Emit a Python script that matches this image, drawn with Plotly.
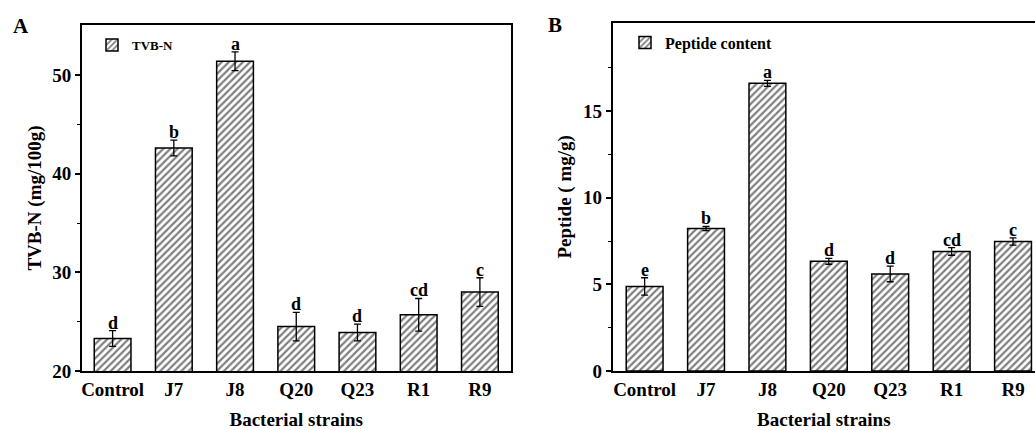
import plotly.graph_objects as go

strains = ["Control", "J7", "J8", "Q20", "Q23", "R1", "R9"]
tvbn = [23.3, 42.6, 51.4, 24.5, 23.9, 25.7, 28.0]
tvbn_err = [0.8, 0.8, 0.95, 1.45, 0.85, 1.65, 1.45]
tvbn_letters = ["d", "b", "a", "d", "d", "cd", "c"]
peptide = [4.88, 8.22, 16.6, 6.33, 5.6, 6.9, 7.47]
peptide_err = [0.5, 0.12, 0.17, 0.17, 0.45, 0.22, 0.21]
peptide_letters = ["e", "b", "a", "d", "d", "cd", "c"]

W, H = 1035, 430
FONT = "Liberation Serif"

def px_x(p):
    return p / W

def px_y(p):
    return 1 - p / H

pattern = dict(shape="/", fgcolor="black", bgcolor="white", size=5, solidity=0.45)

fig = go.Figure()
fig.add_trace(go.Bar(
    x=strains, y=tvbn, name="TVB-N", xaxis="x", yaxis="y", width=0.6,
    marker=dict(color="white", pattern=pattern, line=dict(color="black", width=1.5)),
    error_y=dict(type="data", array=tvbn_err, color="black", thickness=1.3, width=3.5),
    legend="legend",
))
fig.add_trace(go.Bar(
    x=strains, y=peptide, name="Peptide content", xaxis="x2", yaxis="y2", width=0.6,
    marker=dict(color="white", pattern=pattern, line=dict(color="black", width=1.5)),
    error_y=dict(type="data", array=peptide_err, color="black", thickness=1.3, width=3.5),
    legend="legend2",
))

annotations = []
for s, v, e, t in zip(strains, tvbn, tvbn_err, tvbn_letters):
    annotations.append(dict(x=s, y=v + e, xref="x", yref="y", text=t, showarrow=False,
                            yanchor="bottom", yshift=-4,
                            font=dict(family=FONT, size=18, color="black", weight="bold")))
for s, v, e, t in zip(strains, peptide, peptide_err, peptide_letters):
    annotations.append(dict(x=s, y=v + e, xref="x2", yref="y2", text=t, showarrow=False,
                            yanchor="bottom", yshift=-4,
                            font=dict(family=FONT, size=18, color="black", weight="bold")))
annotations.append(dict(x=px_x(21), y=px_y(26), xref="paper", yref="paper", text="A",
                        showarrow=False, xanchor="center", yanchor="middle",
                        font=dict(family=FONT, size=21, color="black", weight="bold")))
annotations.append(dict(x=px_x(555), y=px_y(25), xref="paper", yref="paper", text="B",
                        showarrow=False, xanchor="center", yanchor="middle",
                        font=dict(family=FONT, size=21, color="black", weight="bold")))

tickfont = dict(family=FONT, size=19, color="black", weight="bold")
titlefont = dict(family=FONT, size=19, color="black", weight="bold")

xcommon = dict(type="category", showline=True, linecolor="black", linewidth=1.8, mirror=True,
               automargin=False,
               ticks="", tickfont=tickfont, ticklabelstandoff=0, showgrid=False, zeroline=False,
               title=dict(text="Bacterial strains", font=titlefont, standoff=15))

fig.update_layout(
    width=W, height=H, margin=dict(l=0, r=0, t=0, b=0, autoexpand=False),
    paper_bgcolor="white", plot_bgcolor="white",
    font=dict(family=FONT, color="black"),
    showlegend=True,
    bargap=0.4,
    xaxis=dict(domain=[px_x(82), px_x(510.5)], range=[-0.5, 6.5], anchor="y", **xcommon),
    yaxis=dict(domain=[px_y(371), px_y(25)], range=[20, 55.07], anchor="x", automargin=False,
               showline=True, linecolor="black", linewidth=1.8, mirror=True,
               ticks="outside", ticklen=5, tickwidth=1.5, tickcolor="black",
               tickvals=[20, 30, 40, 50], tickfont=tickfont, showgrid=False, zeroline=False,
               minor=dict(tickvals=[25, 35, 45], ticks="outside", ticklen=3, tickwidth=1.2, tickcolor="black"),
               title=dict(text="TVB-N (mg/100g)", font=titlefont, standoff=6)),
    xaxis2=dict(domain=[px_x(612.7), 1.0], range=[-0.52, 6.358], anchor="y2", **xcommon),
    yaxis2=dict(domain=[px_y(371), px_y(22.7)], range=[0, 20.1], anchor="x2", automargin=False,
                showline=True, linecolor="black", linewidth=1.8, mirror=False,
                ticks="outside", ticklen=5, tickwidth=1.5, tickcolor="black",
                tickvals=[0, 5, 10, 15], tickfont=tickfont, showgrid=False, zeroline=False,
                minor=dict(tickvals=[2.5, 7.5, 12.5, 17.5], ticks="outside", ticklen=3, tickwidth=1.2, tickcolor="black"),
                title=dict(text="Peptide ( mg/g)", font=titlefont, standoff=6)),
    legend=dict(x=px_x(92), y=px_y(45), xanchor="left", yanchor="middle", bgcolor="rgba(0,0,0,0)",
                font=dict(family=FONT, size=13, color="black", weight="bold")),
    legend2=dict(x=px_x(625), y=px_y(42.5), xanchor="left", yanchor="middle", bgcolor="rgba(0,0,0,0)",
                 font=dict(family=FONT, size=16, color="black", weight="bold")),
    annotations=annotations,
)

fig.write_html("out.html", config={"displayModeBar": False},
               post_script="document.body.style.margin='0';document.body.style.overflow='hidden';")
